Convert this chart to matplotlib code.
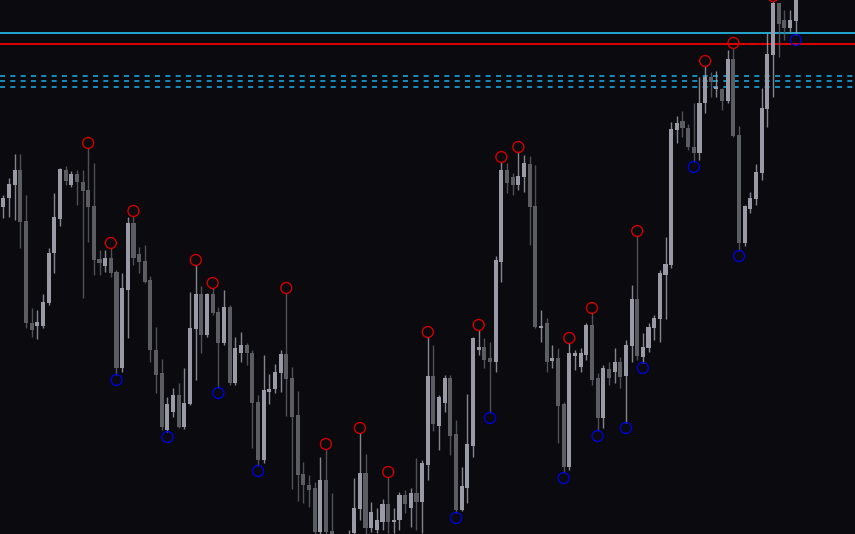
import matplotlib
matplotlib.use("Agg")
import matplotlib.pyplot as plt
import numpy as np

# candle levels (screen rows: smaller = higher price)
opens = [207, 198, 185, 170, 221, 323, 326, 326, 303, 253, 219, 170, 185, 174, 182, 190, 206, 259, 266, 258,
         272, 368, 290, 223, 254, 261, 280, 350, 373, 430, 412, 395, 427, 404, 329, 294, 335, 294, 312, 343,
         307, 383, 353, 345, 353, 402, 460, 392, 389, 373, 354, 378, 415, 474, 485, 488, 532, 480, 531, 545,
         555, 548, 533, 509, 473, 528, 530, 522, 504, 522, 520, 495, 508, 493, 502, 465, 376, 426, 403, 378,
         434, 510, 488, 446, 350, 347, 358, 362, 262, 170, 177, 185, 177, 164, 206, 327, 323, 361, 358, 404,
         467, 356, 367, 355, 325, 378, 418, 369, 372, 362, 376, 346, 299, 357, 348, 328, 319, 275, 265, 130,
         121, 128, 147, 153, 103, 77, 89, 89, 101, 59, 135, 243, 209, 199, 173, 109, 55, 3, 20, 28, 21]
highs = [195, 178, 154, 154, 195, 308, 310, 294, 248, 193, 168, 166, 171, 170, 170, 148, 163, 250, 250, 248,
         270, 273, 217, 216, 247, 245, 276, 327, 359, 397, 388, 383, 368, 292, 265, 286, 293, 288, 307, 290,
         305, 337, 332, 343, 350, 395, 355, 374, 364, 350, 293, 367, 391, 462, 475, 482, 457, 449, 493, 538,
         540, 530, 478, 433, 454, 502, 508, 499, 477, 508, 492, 490, 488, 458, 460, 337, 345, 395, 375, 375,
         420, 467, 394, 337, 330, 338, 342, 256, 162, 163, 173, 152, 155, 156, 165, 310, 318, 345, 348, 402,
         343, 350, 348, 323, 313, 373, 365, 362, 348, 357, 340, 285, 236, 333, 323, 315, 270, 237, 122, 116,
         111, 124, 103, 77, 66, 72, 71, 88, 50, 48, 126, 205, 192, 164, 88, 33, 1, 3, 10, 10, -12]
lows = [218, 217, 220, 248, 328, 337, 339, 328, 305, 273, 226, 185, 187, 205, 298, 242, 275, 275, 272, 277,
        375, 372, 338, 265, 273, 283, 362, 393, 430, 432, 417, 428, 429, 405, 380, 353, 337, 315, 388, 345,
        385, 385, 362, 365, 448, 466, 463, 404, 393, 392, 416, 489, 501, 503, 507, 545, 545, 545, 555, 565,
        562, 552, 540, 520, 538, 532, 533, 530, 533, 533, 530, 513, 527, 530, 533, 480, 431, 450, 412, 455,
        513, 511, 503, 457, 355, 368, 413, 372, 282, 193, 195, 190, 192, 245, 328, 342, 372, 368, 443, 473,
        470, 370, 372, 360, 385, 431, 428, 385, 383, 388, 423, 362, 360, 363, 352, 340, 342, 319, 268, 143,
        137, 150, 162, 160, 113, 97, 97, 110, 103, 137, 251, 246, 213, 205, 180, 127, 97, 57, 40, 32, 35]
closes = [198, 184, 170, 222, 323, 330, 322, 302, 253, 217, 169, 181, 174, 182, 191, 207, 260, 263, 258, 273,
          368, 288, 223, 258, 262, 282, 350, 375, 427, 404, 395, 427, 403, 328, 294, 335, 294, 313, 343, 307,
          383, 348, 345, 353, 403, 460, 390, 389, 372, 354, 379, 417, 475, 485, 490, 532, 480, 532, 545, 555,
          548, 536, 508, 473, 528, 512, 520, 504, 522, 520, 495, 504, 493, 502, 463, 376, 424, 397, 378, 436,
          510, 486, 444, 338, 347, 360, 362, 260, 170, 183, 185, 176, 163, 207, 327, 326, 362, 358, 406, 467,
          353, 353, 353, 325, 380, 418, 368, 378, 362, 377, 345, 299, 356, 347, 327, 318, 273, 264, 129, 123,
          128, 147, 153, 103, 77, 82, 87, 101, 59, 136, 243, 206, 198, 172, 108, 54, 3, 24, 28, 20, -5]

swing_highs = [15, 19, 23, 34, 37, 50, 57, 63, 68, 75, 84, 88, 91, 100, 104, 112, 124, 129, 136]
swing_lows = [20, 29, 38, 45, 80, 86, 99, 105, 110, 113, 122, 130, 140]

solid_levels = [(33.3, "#23a6cf"), (44.3, "#e00000")]
dashed_levels = [76.0, 81.3, 87.3]

BG = "#0a0a0f"
UP = "#9a9aa7"
DOWN = "#5c5c63"


def _main():
    o = np.array(opens, dtype=float)
    h = np.array(highs, dtype=float)
    l = np.array(lows, dtype=float)
    c = np.array(closes, dtype=float)
    x = np.arange(len(o))
    up = c <= o  # screen rows: close above open means bullish

    fig = plt.figure(figsize=(8.55, 5.34), dpi=100, facecolor=BG)
    ax = fig.add_axes([0, 0, 1, 1])
    ax.set_facecolor(BG)

    for level, color in solid_levels:
        ax.axhline(level, color=color, linewidth=1.4, zorder=1)
    for level in dashed_levels:
        ax.axhline(level, color="#1aa3d6", linewidth=1.2, linestyle=(0, (3.0, 3.2)), zorder=1)

    colors = np.where(up, UP, DOWN)
    ax.vlines(x, h, l, colors=colors, linewidth=1.0, alpha=0.85, zorder=2)
    body_low = np.minimum(o, c)
    body_h = np.maximum(np.abs(c - o), 1.5)
    ax.bar(x, body_h, bottom=body_low, width=0.72, color=colors, linewidth=0, zorder=3)

    ax.scatter(x[swing_highs], h[swing_highs] - 5, s=62, facecolors="none",
               edgecolors="#d00000", linewidths=1.0, zorder=4)
    ax.scatter(x[swing_lows], l[swing_lows] + 5, s=62, facecolors="none",
               edgecolors="#0000d8", linewidths=1.0, zorder=4)

    ax.set_xlim(-0.583, 150.48)
    ax.set_ylim(534, 0)
    ax.axis("off")
    fig.savefig("out.png", dpi=100, facecolor=BG)


if __name__ == "__main__":
    _main()
